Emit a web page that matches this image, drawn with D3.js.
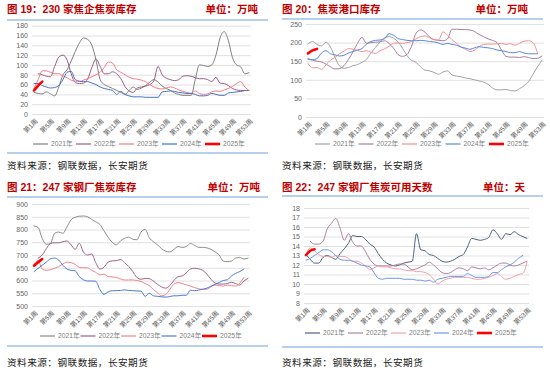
<!DOCTYPE html>
<html>
<head>
<meta charset="utf-8">
<script src="https://cdn.jsdelivr.net/npm/d3@7"></script>
<style>
  body { margin: 0; background: #fff; }
  text { font-family: 'Liberation Sans', 'Noto Sans CJK SC', sans-serif; }
</style>
</head>
<body>
<div id="chart"></div>
<script>
// categories
const years = ['2021年', '2022年', '2023年', '2024年', '2025年']
const weeks = d3.range(1, 54)
const labelWeeks = [1, 5, 9, 13, 17, 21, 25, 29, 33, 37, 41, 45, 49, 53]
const weekLabel = w => `第${w}周`

// 图19 230家焦企焦炭库存 (万吨)
const enterpriseTicks = [0, 20, 40, 60, 80, 100, 120, 140, 160, 180]
const enterprise2021 = [44,42,41,45,41,37,55,80,90,108, 128,145,155,152,140,110,70,60,56,52, 48,44,40,48,55,50,53,58,65,70, 65,57,52,48,43,40,38,38,38,70, 100,99,97,100,120,155,168,150,115,100, 96,82,84]
const enterprise2022 = [null,82,80,77,76,97,116,120,110,82, 64,62,63,72,95,112,97,82,82,86, 82,72,56,47,44,53,55,57,60,68, 97,80,73,70,68,70,77,78,77,74, 72,72,70,66,75,63,62,58,52,49, 48,48,48]
const enterprise2023 = [52,70,88,88,85,82,82,78,74,69, 67,66,69,72,76,80,85,95,106,104, 90,85,80,75,72,71,69,66,60,55, 52,51,53,55,53,49,46,44,42,47, 42,40,41,45,47,46,49,52,56,62, 66,55,48]
const enterprise2024 = [62,62,58,55,53,54,58,70,85,87, 70,67,66,66,63,60,55,52,50,48, 40,46,40,37,35,35,35,34,34,34, 34,45,46,47,46,44,43,42,42,40, 37,37,38,42,40,38,38,43,44,45, 46,48,null]
const enterprise2025 = [48,58,66]

// 图20 焦炭港口库存 (万吨)
const portTicks = [0, 50, 100, 150, 200, 250]
const port2021 = [196,203,195,191,201,188,160,137,131,133, 138,141,147,155,172,187,202,213,216,212, 202,185,165,152,147,135,126,124,120,115, 121,124,113,110,108,105,103,100,97,94, 88,78,73,73,74,71,70,76,84,95, 115,135,153]
const port2022 = [155,153,150,148,142,135,129,130,138,155, 175,198,214,198,200,201,202,205,198,185, 168,163,168,190,225,234,228,215,208,206, 205,210,236,236,235,235,234,230,222,216, 210,206,200,180,163,161,161,160,162,160, 157,158,164]
const port2023 = [144,132,133,128,140,153,160,170,177,184, 182,179,176,178,174,171,178,183,190,198, 199,198,200,203,210,216,218,213,208,207, 229,220,208,198,188,182,176,180,189,195, 196,196,197,198,195,197,193,198,204,205, 200,172,null]
const port2024 = [157,154,157,172,178,170,167,164,166,172, 176,180,184,196,203,206,207,210,224,220, 211,208,206,205,205,206,205,203,202,199, 195,198,195,193,188,185,182,186,189,187, 186,184,180,178,176,173,173,176,172,170, 170,170,null]
const port2025 = [171,179,183]

// 图21 247家钢厂焦炭库存 (万吨)
const millTicks = [500, 550, 600, 650, 700, 750, 800, 850, 900]
const mill2021 = [814,808,765,742,745,785,790,785,810,838, 848,852,853,850,840,830,820,795,770,750, 740,755,765,770,762,760,790,800,768,752, 740,725,715,712,722,733,730,733,745,738, 730,730,728,722,712,700,676,674,676,688, 690,684,688]
const mill2022 = [null,688,700,725,745,748,748,752,755,740, 722,746,712,700,704,670,645,652,672,677, 678,682,670,655,635,612,605,608,607,598, 585,575,570,580,600,615,618,630,645,648, 646,640,625,605,590,586,586,588,593,588, 582,598,608]
const mill2023 = [665,678,645,640,642,648,654,665,672,670, 663,652,650,650,640,632,622,625,616,614, 612,606,602,602,602,600,596,588,580,565, 552,540,545,565,585,592,588,583,578,572, 568,565,566,575,582,580,578,582,580,578, 590,612,null]
const mill2024 = [635,648,660,672,685,688,680,660,645,640, 638,615,603,598,598,597,565,546,555,560, 560,561,563,561,560,559,558,538,550,540, 538,536,535,537,540,540,542,542,562,560, 562,566,570,578,585,592,600,603,618,628, 635,645,null]
const mill2025 = [658,672,684]

// 图22 247家钢厂焦炭可用天数 (天)
const daysTicks = [8, 9, 10, 11, 12, 13, 14, 15, 16, 17, 18]
const days2021 = [13.1,12.6,12.2,12.2,12.8,13.0,12.8,12.6,13.2,13.7, 14.3,15.1,15.0,15.0,14.7,14.2,13.9,13.2,12.6,12.2, 12.0,11.9,12.0,12.2,12.3,12.4,15.3,13.6,13.5,13.1, 13.0,12.7,12.4,12.3,12.4,12.6,12.9,13.1,13.9,14.8, 14.7,14.6,14.7,14.9,15.7,15.3,14.7,15.3,15.2,15.5, 15.2,15.0,14.8]
const days2022 = [null,14.5,14.2,14.2,14.5,15.8,16.4,16.9,15.9,14.6, 15.3,14.4,14.0,14.0,13.4,12.6,12.1,11.9,11.9,11.9, 11.9,12.0,12.1,12.1,11.8,11.5,11.6,11.8,12.0,12.3, 12.0,11.6,11.2,11.1,11.2,11.5,11.7,11.6,11.4,11.8, 11.7,11.6,11.7,11.5,11.7,12.0,12.2,12.2,12.0,11.9, 12.0,12.2,12.4]
const days2023 = [13.1,13.8,13.5,13.1,12.9,12.9,12.8,13.0,12.9,12.9, 12.7,12.4,12.4,12.2,11.9,11.5,11.7,11.9,11.8,11.8, 11.7,11.6,11.6,11.5,11.4,11.4,11.3,11.3,11.2,11.0, 10.5,10.0,10.3,10.5,10.6,10.7,10.7,10.7,10.7,10.6, 10.5,10.5,10.6,10.7,10.9,11.1,10.8,10.5,10.6,10.8, 11.0,11.1,12.3]
const days2024 = [12.5,12.7,13.0,13.3,13.6,13.6,13.4,13.0,12.6,12.5, 12.5,12.4,12.2,12.0,11.9,11.8,11.2,10.6,10.5,10.6, 10.6,10.6,10.6,10.5,10.5,10.5,10.4,10.4,10.3,10.4, 10.2,10.5,10.6,10.7,10.8,10.8,10.8,10.8,11.1,10.9, 10.7,10.7,10.7,10.8,11.2,11.2,11.5,11.8,12.0,12.3, 12.7,13.0,null]
const days2025 = [13.05,13.5,13.65]

const source = '资料来源：钢联数据，长安期货'

const panels = [
  {
    title: '图 19：230 家焦企焦炭库存', unit: '单位：万吨',
    x0: 7, x1: 268, unitX: 258, titleY: 13, ruleY: 20, bottomRuleY: 153, sourceY: 169,
    left: 34, right: 249, top: 25.7, bottom: 114, yTicks: enterpriseTicks,
    legendX: 33, legendStep: 43, legendY: 144,
    series: [enterprise2021, enterprise2022, enterprise2023, enterprise2024, enterprise2025],
    colors: ['#7f7f7f', '#9b5b85', '#f47c84', '#4472c4', '#ff0000']
  },
  {
    title: '图 20：焦炭港口库存', unit: '单位：万吨',
    x0: 282, x1: 543, unitX: 528, titleY: 13, ruleY: 19, bottomRuleY: null, sourceY: 169,
    left: 308, right: 542, top: 24, bottom: 117, yTicks: portTicks,
    legendX: 315, legendStep: 43.5, legendY: 144,
    series: [port2021, port2022, port2023, port2024, port2025],
    colors: ['#a3a3a3', '#a8809c', '#f2909a', '#5a8ae0', '#ff0000']
  },
  {
    title: '图 21：247 家钢厂焦炭库存', unit: '单位：万吨',
    x0: 7, x1: 268, unitX: 260, titleY: 191, ruleY: 197, bottomRuleY: 346, sourceY: 366,
    left: 34, right: 248, top: 204, bottom: 306, yTicks: millTicks,
    legendX: 40, legendStep: 40.5, legendY: 336,
    series: [mill2021, mill2022, mill2023, mill2024, mill2025],
    colors: ['#8c8c8c', '#9e6386', '#f2848c', '#4a7bd4', '#ff0000']
  },
  {
    title: '图 22：247 家钢厂焦炭可用天数', unit: '单位：天',
    x0: 282, x1: 543, unitX: 525, titleY: 191, ruleY: 196, bottomRuleY: 347, sourceY: 366,
    left: 306, right: 527, top: 208, bottom: 303, yTicks: daysTicks,
    legendX: 305, legendStep: 43, legendY: 333,
    series: [days2021, days2022, days2023, days2024, days2025],
    colors: ['#4a6282', '#b0809e', '#f4a0a8', '#6a98e8', '#ff0000']
  }
]

const svg = d3.select('#chart')
  .append('svg')
  .attr('width', 550)
  .attr('height', 373)
  .style('background-color', '#fff')

const drawPanel = p => {
  const g = svg.append('g')
  const x = d3.scalePoint().domain(weeks).range([p.left, p.right])
  const y = d3.scaleLinear().domain(d3.extent(p.yTicks)).range([p.bottom, p.top])

  // heading
  g.append('text')
    .attr('x', p.x0).attr('y', p.titleY)
    .attr('fill', '#c00000').attr('font-size', 10.5).attr('font-weight', 'bold')
    .text(p.title)
  g.append('text')
    .attr('x', p.unitX).attr('y', p.titleY)
    .attr('text-anchor', 'end')
    .attr('fill', '#c00000').attr('font-size', 10.5).attr('font-weight', 'bold')
    .text(p.unit)

  const rule = yy => g.append('line')
    .attr('x1', p.x0).attr('x2', p.x1).attr('y1', yy).attr('y2', yy)
    .attr('stroke', '#9fc0e8').attr('stroke-width', 1.6)
  rule(p.ruleY)
  if (p.bottomRuleY) rule(p.bottomRuleY)

  // y axis + grid
  const yAxis = g.append('g')
    .attr('transform', `translate(${p.left - 2},0)`)
    .call(d3.axisLeft(y).tickValues(p.yTicks).tickSize(-(p.right - p.left + 4)).tickPadding(4))
  yAxis.select('.domain').remove()
  yAxis.selectAll('.tick line').attr('stroke', '#d9d9d9').attr('stroke-width', 0.8)
  yAxis.selectAll('.tick text')
    .attr('fill', '#666').attr('font-size', 7)
    .style('font-family', "'Liberation Sans', sans-serif")

  // x axis, rotated week labels
  const xAxis = g.append('g')
    .attr('transform', `translate(0,${p.bottom})`)
    .call(d3.axisBottom(x).tickValues(labelWeeks).tickFormat(weekLabel).tickSize(0))
  xAxis.select('.domain').remove()
  xAxis.selectAll('.tick text')
    .attr('x', 0).attr('y', 0).attr('dy', '0.35em')
    .attr('text-anchor', 'end')
    .attr('transform', 'translate(2,6) rotate(-45)')
    .attr('fill', '#595959').attr('font-size', 6.6)

  // series
  const line = d3.line()
    .defined(d => d != null)
    .x((d, i) => x(weeks[i]))
    .y(d => y(d))
    .curve(d3.curveMonotoneX)

  p.series.forEach((s, i) => {
    g.append('path')
      .datum(s)
      .attr('fill', 'none')
      .attr('stroke', p.colors[i])
      .attr('stroke-width', i === 4 ? 2.6 : 1)
      .attr('stroke-linecap', 'round')
      .attr('d', line)
  })

  // legend
  const legend = g.selectAll('.legend')
    .data(years)
    .enter()
    .append('g')
    .attr('transform', (d, i) => `translate(${p.legendX + i * p.legendStep},${p.legendY})`)
  legend.append('line')
    .attr('x1', 0).attr('x2', 15)
    .attr('stroke', (d, i) => p.colors[i])
    .attr('stroke-width', (d, i) => (i === 4 ? 2.6 : 1.2))
  legend.append('text')
    .attr('x', 18).attr('dy', '0.35em')
    .attr('fill', '#7f7f7f').attr('font-size', 6.8)
    .text(d => d)

  // source note
  g.append('text')
    .attr('x', p.x0).attr('y', p.sourceY)
    .attr('fill', '#222').attr('font-size', 9.6)
    .attr('letter-spacing', 0.5)
    .text(source)
}

panels.forEach(drawPanel)
</script>
</body>
</html>
